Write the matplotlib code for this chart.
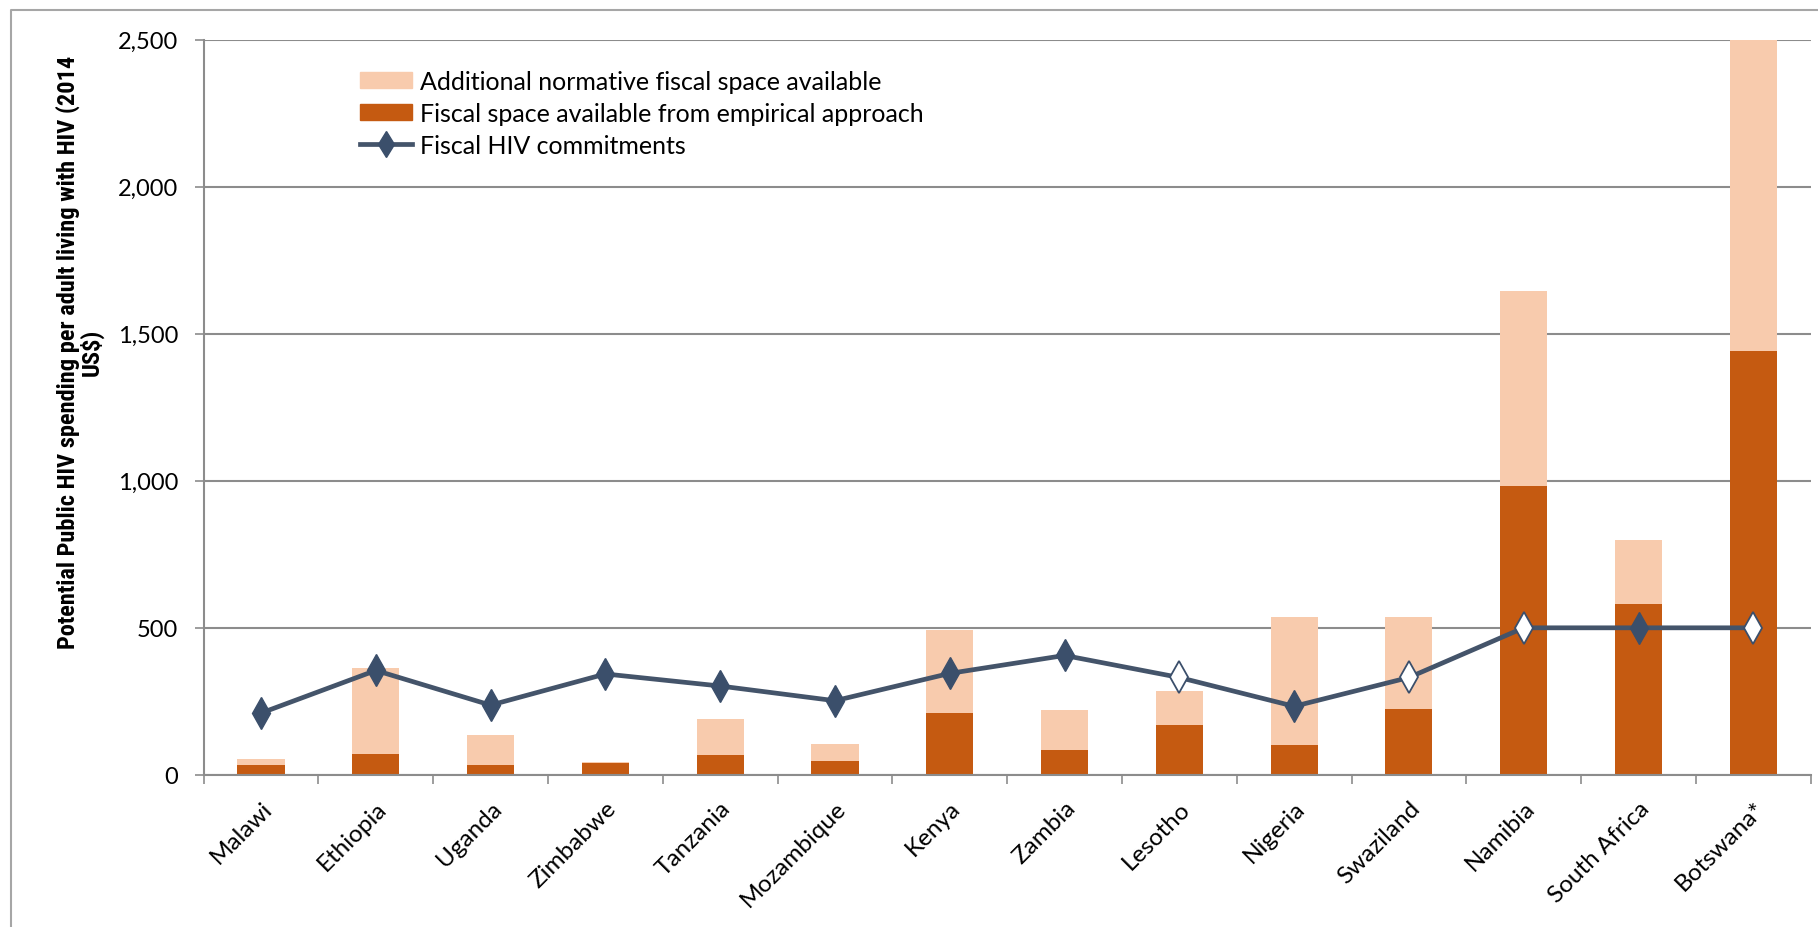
import matplotlib
matplotlib.use("Agg")
import matplotlib.pyplot as plt
from matplotlib.patches import Patch
from matplotlib.lines import Line2D
import numpy as np

countries = ["Malawi", "Ethiopia", "Uganda", "Zimbabwe", "Tanzania", "Mozambique",
             "Kenya", "Zambia", "Lesotho", "Nigeria", "Swaziland", "Namibia",
             "South Africa", "Botswana*"]
empirical = [32, 71, 35, 40, 67, 47, 209, 83, 170, 103, 225, 982, 580, 1443]
normative_total = [55, 363, 134, 42, 189, 106, 493, 221, 284, 536, 536, 1644, 797, 2500]
commitments = [210, 355, 237, 343, 302, 252, 345, 406, 331, 233, 331, 500, 500, 500]
commitment_estimated = [False, False, False, False, False, False, False, False,
                        True, False, True, True, False, True]
y_ticks = [0, 500, 1000, 1500, 2000, 2500]

additional = [t - e for t, e in zip(normative_total, empirical)]

DARK = "#C55A11"
LIGHT = "#F8CBAD"
LINE = "#44546A"
MARK = "#3B4F6B"
GRID = "#8C8C8C"
FONT = ["Lato", "DejaVu Sans"]

fig = plt.figure(figsize=(18.18, 9.28), dpi=100)
ax = fig.add_axes([0.112, 0.164, 0.884, 0.792])

x = np.arange(len(countries))
ax.bar(x, empirical, width=0.41, color=DARK, zorder=2)
ax.bar(x, additional, bottom=empirical, width=0.41, color=LIGHT, zorder=2)

ax.plot(x, commitments, color=LINE, lw=3.4, zorder=3)
est = np.array(commitment_estimated)
vals = np.array(commitments)
ax.plot(x[~est], vals[~est], ls="none", marker="d", ms=16, mfc=MARK, mec=MARK, zorder=4)
ax.plot(x[est], vals[est], ls="none", marker="d", ms=16, mfc="white", mec=MARK,
        mew=1.3, zorder=4)

ax.set_xlim(-0.5, len(countries) - 0.5)
ax.set_ylim(0, 2500)
ax.set_yticks(y_ticks)
ax.set_yticklabels([f"{v:,}" for v in y_ticks], fontsize=17, family=FONT)
ax.yaxis.grid(True, color=GRID, lw=1.5, zorder=0)
ax.set_axisbelow(True)

ax.set_xticks(x)
ax.set_xticklabels(countries, rotation=45, ha="right", rotation_mode="anchor",
                   fontsize=17.5, family=FONT)
ax.set_xticks(np.arange(len(countries) + 1) - 0.5, minor=True)
ax.tick_params(axis="x", which="major", length=0, pad=16)
ax.tick_params(axis="x", which="minor", length=6.5, color=GRID, width=1.2)
ax.tick_params(axis="y", length=6.5, color=GRID, width=1.2, pad=12)

for side in ["top", "right"]:
    ax.spines[side].set_visible(False)
for side in ["left", "bottom"]:
    ax.spines[side].set_color(GRID)
    ax.spines[side].set_linewidth(1.5)

ax.set_ylabel("Potential Public HIV spending per adult living with HIV (2014\nUS$)",
              fontsize=17.6, fontweight="bold", linespacing=1.0,
              family=["Roboto Condensed", "Lato", "DejaVu Sans"])
ax.yaxis.set_label_coords(-0.062, 0.576)

handles = [Patch(color=LIGHT), Patch(color=DARK),
           Line2D([], [], color=LINE, lw=3.4, marker="d", ms=13, mfc=MARK, mec=MARK)]
labels = ["Additional normative fiscal space available",
          "Fiscal space available from empirical approach",
          "Fiscal HIV commitments"]
ax.legend(handles, labels, loc="upper left", bbox_to_anchor=(0.083, 0.99),
          frameon=False, prop={"family": FONT, "size": 18},
          handlelength=2.1, handleheight=0.65, labelspacing=0.36, handletextpad=0.33)

# chart frame: top and left edges
fig.add_artist(Line2D([11 / 1818, 11 / 1818, 1], [0, 1 - 11 / 928, 1 - 11 / 928],
                      transform=fig.transFigure, color="#A6A6A6", lw=1.5))

fig.savefig("out.png", dpi=100)
